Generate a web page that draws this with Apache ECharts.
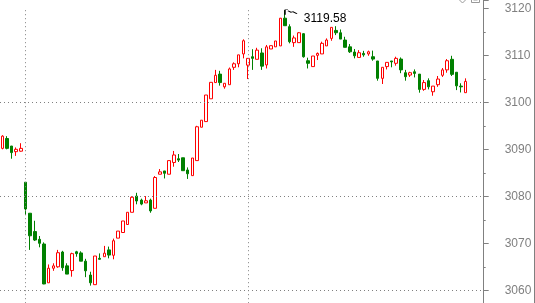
<!DOCTYPE html>
<html>
<head>
<meta charset="utf-8">
<script src="https://cdn.jsdelivr.net/npm/echarts@6/dist/echarts.min.js"></script>
<style>html,body{margin:0;padding:0;background:#fff;}#c{width:535px;height:303px;}</style>
</head>
<body>
<div id="c"></div>
<script>
// candle values (open, close, low, high)
const opens  = [3090.2,3092.3,3090.7,3089.5,3089.6,3083.0,3076.4,3072.5,3070.85,3069.85,
  3061.6,3064.7,3065.0,3068.15,3065.2,3064.2,3068.2,3067.95,3066.2,3063.25,
  3061.2,3066.8,3067.15,3068.6,3067.45,3071.1,3072.3,3074.0,3076.6,3080.05,
  3079.2,3078.6,3079.2,3077.45,3084.7,3085.4,3084.7,3087.2,3088.0,3088.2,
  3085.6,3084.4,3087.6,3094.7,3095.9,3100.75,3104.2,3106.0,3103.3,3103.75,
  3107.45,3108.2,3110.3,3107.9,3109.7,3109.15,3110.5,3107.95,3111.35,3111.8,
  3112.0,3117.9,3116.1,3112.7,3112.7,3114.6,3108.85,3107.6,3110.0,3110.3,
  3112.0,3113.6,3115.3,3114.8,3113.25,3111.8,3110.7,3109.55,3110.4,3110.3,
  3109.7,3108.8,3105.1,3107.6,3108.8,3108.3,3109.2,3106.3,3105.8,3106.5,
  3106.0,3102.75,3104.6,3102.25,3103.75,3105.75,3106.9,3109.15,3106.4,3103.45,
  3102.05];
const closes = [3092.8,3090.2,3089.3,3090.0,3090.2,3077.3,3071.6,3070.7,3070.0,3061.35,
  3064.7,3065.2,3068.0,3064.8,3063.45,3067.8,3067.8,3066.2,3064.15,3061.6,
  3067.3,3066.6,3067.9,3067.5,3070.55,3072.6,3074.75,3076.6,3079.8,3079.0,
  3078.35,3079.05,3076.9,3084.0,3085.2,3084.9,3087.6,3088.8,3087.7,3085.45,
  3084.8,3088.15,3094.8,3096.2,3101.55,3104.25,3105.75,3104.2,3104.05,3107.1,
  3108.2,3110.1,3113.1,3109.35,3109.35,3111.1,3107.7,3111.8,3112.05,3113.05,
  3117.9,3116.3,3112.9,3113.7,3114.8,3109.7,3108.3,3109.85,3110.4,3112.55,
  3113.25,3115.95,3114.8,3113.45,3111.7,3110.75,3109.9,3110.55,3110.1,3110.75,
  3109.2,3105.1,3107.45,3108.5,3108.6,3109.35,3106.9,3105.45,3106.3,3106.15,
  3102.75,3104.2,3103.3,3103.45,3104.95,3106.9,3108.85,3105.95,3103.5,3103.3,
  3104.45];
const lows   = [3090.0,3090.0,3088.0,3088.6,3089.5,3076.0,3068.6,3070.5,3069.15,3061.3,
  3061.6,3064.15,3064.8,3064.15,3063.45,3062.9,3067.15,3066.2,3062.8,3061.0,
  3061.2,3066.55,3067.15,3066.8,3066.6,3071.1,3072.3,3074.0,3076.6,3078.3,
  3078.1,3078.6,3076.5,3077.45,3084.7,3083.8,3084.7,3086.3,3087.3,3085.45,
  3083.7,3084.4,3087.6,3094.7,3095.9,3100.75,3104.2,3103.55,3102.9,3103.75,
  3106.9,3107.45,3109.35,3104.95,3106.9,3109.15,3106.9,3107.2,3111.35,3111.8,
  3112.0,3116.3,3112.55,3111.8,3112.7,3109.5,3107.2,3107.6,3109.0,3110.3,
  3112.0,3113.1,3114.3,3113.45,3111.7,3110.5,3109.35,3109.55,3109.7,3109.9,
  3108.85,3104.6,3103.9,3107.0,3107.45,3107.8,3106.2,3104.6,3105.4,3105.3,
  3102.05,3102.45,3102.75,3101.4,3103.3,3105.4,3106.3,3105.6,3102.6,3102.1,
  3102.05];
const highs  = [3093.0,3092.8,3090.7,3090.4,3091.3,3083.0,3076.4,3074.8,3071.55,3070.2,
  3065.5,3065.75,3068.6,3068.4,3065.75,3068.0,3068.4,3068.3,3066.7,3063.95,
  3067.3,3067.85,3069.45,3069.3,3071.0,3072.6,3074.75,3076.6,3080.0,3080.75,
  3079.5,3080.05,3079.5,3084.3,3085.8,3085.4,3087.6,3089.65,3089.0,3088.2,
  3086.15,3088.15,3095.0,3096.2,3101.55,3104.25,3106.9,3106.7,3104.05,3107.4,
  3108.5,3110.1,3113.4,3109.35,3111.3,3111.6,3111.5,3112.2,3112.05,3113.05,
  3117.95,3119.58,3116.6,3114.2,3114.95,3114.7,3109.5,3109.85,3110.6,3112.9,
  3113.6,3115.95,3116.2,3115.5,3113.95,3112.4,3111.35,3111.1,3110.95,3111.0,
  3111.0,3108.8,3107.45,3108.5,3108.8,3109.7,3109.55,3106.9,3106.5,3107.0,
  3106.0,3104.75,3105.1,3103.45,3105.6,3107.3,3109.2,3109.9,3106.4,3104.05,
  3105.1];
// bar slots on the axis (two sessions of 48 bars, plus a few leading/trailing slots)
const categories = Array.from({length: 104}, (_, i) => 'b' + (i + 1));
// session start bars (dotted vertical lines)
const sessionStarts = [5, 53];
// horizontal dotted grid levels
const gridLevels = [3060, 3080, 3100];
// y range
const yMin = 3057.3, yMax = 3121.77, vLineTop = 3119.6;

const candles = opens.map((o, i) => [o, closes[i], lows[i], highs[i]]);
let maxIdx = 0;
highs.forEach((h, i) => { if (h > highs[maxIdx]) maxIdx = i; });

const dotStyle = { color: '#808080', width: 1, type: [1, 3] };
const markLineData = gridLevels.map(v => ({ yAxis: v }))
  .concat(sessionStarts.map(i => [
    { coord: [categories[i], vLineTop] },
    { coord: [categories[i], yMin] }
  ]));

const chart = echarts.init(document.getElementById('c'), null, { renderer: 'canvas' });
chart.setOption({
  animation: false,
  backgroundColor: '#fff',
  grid: { left: -1.25, right: 53.1, top: 0, bottom: 0, containLabel: false },
  xAxis: {
    type: 'category', data: categories, boundaryGap: true,
    axisLine: { show: false }, axisTick: { show: false }, axisLabel: { show: false },
    splitLine: { show: false }
  },
  yAxis: {
    type: 'value', position: 'right', min: yMin, max: yMax, scale: true, offset: 1.8,
    axisLine: { show: true, lineStyle: { color: '#808080', width: 1 } },
    axisTick: { show: true, inside: false, length: 5, lineStyle: { color: '#808080' } },
    minorTick: { show: true, splitNumber: 2, length: 2, lineStyle: { color: '#808080' } },
    axisLabel: {
      show: true, showMinLabel: false, showMaxLabel: false, margin: 21,
      color: '#808080', fontSize: 12, fontFamily: 'Liberation Sans, Arial, sans-serif',
      formatter: v => (Math.abs(v - Math.round(v / 10) * 10) < 1e-6 ? String(Math.round(v)) : '')
    },
    splitLine: { show: false }
  },
  series: [{
    type: 'candlestick',
    data: candles,
    barWidth: 3,
    itemStyle: {
      color: '#ffffff', color0: '#008000',
      borderColor: '#ff0000', borderColor0: '#008000', borderWidth: 1
    },
    markLine: {
      silent: true, symbol: 'none', animation: false,
      label: { show: false },
      lineStyle: dotStyle,
      data: markLineData
    },
    markPoint: {
      silent: true, animation: false,
      data: [{
        coord: [categories[maxIdx], highs[maxIdx]],
        value: highs[maxIdx].toFixed(2),
        symbol: 'path://M0,0 L0,5 M0,0 L3,0 M3,1 L6,2.5 L8,2 L12,4',
        symbolSize: [12, 5],
        symbolOffset: [6, 2],
        symbolKeepAspect: false,
        itemStyle: { color: 'none', borderColor: '#000', borderWidth: 1 },
        label: {
          show: true, position: 'right', distance: 3, offset: [0, 6],
          color: '#000', fontSize: 12, fontFamily: 'Liberation Sans, Arial, sans-serif',
          formatter: p => p.value
        }
      }]
    }
  }],
  graphic: [
    { type: 'line', silent: true, shape: { x1: 534.5, y1: 0, x2: 534.5, y2: 303 },
      style: { stroke: '#808080', lineWidth: 1 } },
    { type: 'polyline', silent: true, shape: { points: [[459.5, 0], [462.5, 3], [465.5, 0]] },
      style: { stroke: '#999', fill: 'none', lineWidth: 1 } },
    { type: 'rect', silent: true, shape: { x: 471.5, y: -5, width: 8, height: 7.5 },
      style: { stroke: '#999', fill: 'none', lineWidth: 1 } },
    { type: 'rect', silent: true, shape: { x: 473.5, y: -5, width: 4, height: 5 },
      style: { stroke: '#999', fill: 'none', lineWidth: 1 } }
  ]
});
</script>
</body>
</html>
